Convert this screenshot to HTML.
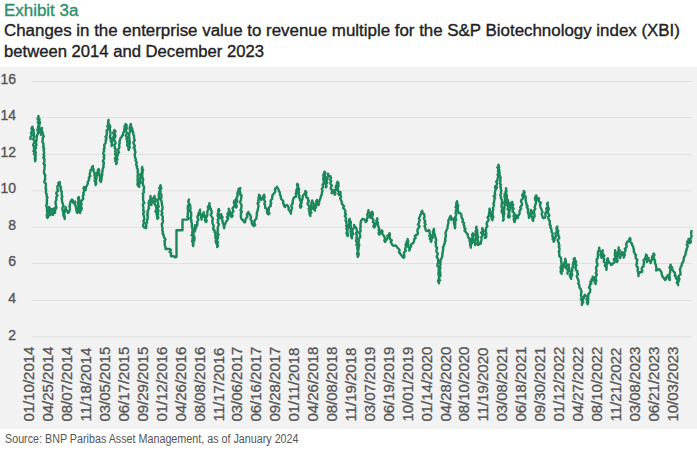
<!DOCTYPE html>
<html><head><meta charset="utf-8"><style>
html,body{margin:0;padding:0;background:#fff;width:697px;height:450px;overflow:hidden}
body{position:relative;font-family:"Liberation Sans",sans-serif}
.t{position:absolute;left:4px;white-space:nowrap;transform-origin:0 0;-webkit-text-stroke:0.35px currentColor}
#ex{top:1px;color:#2f8f6c;font-size:16px;line-height:20px;transform:scaleX(1.058)}
#l1{top:21px;color:#222;font-size:16px;line-height:20px;transform:scaleX(1.056)}
#l2{top:42px;color:#222;font-size:16px;line-height:20px;transform:scaleX(1.040)}
#src{top:431.5px;left:4.5px;color:#555;font-size:12px;line-height:14px;transform:scaleX(0.895);-webkit-text-stroke:0}
svg{position:absolute;left:0;top:0}
</style></head><body>
<svg width="697" height="450" viewBox="0 0 697 450">
<rect x="0" y="66.7" width="697" height="362.5" fill="#f2f2f2"/>
<g stroke="#e0e0e0" stroke-width="1"><line x1="32" y1="81.50" x2="692" y2="81.50"/><line x1="32" y1="117.50" x2="692" y2="117.50"/><line x1="32" y1="154.40" x2="692" y2="154.40"/><line x1="32" y1="190.85" x2="692" y2="190.85"/><line x1="32" y1="227.30" x2="692" y2="227.30"/><line x1="32" y1="263.50" x2="692" y2="263.50"/><line x1="32" y1="300.50" x2="692" y2="300.50"/><line x1="32" y1="336.90" x2="692" y2="336.90"/></g>
<g font-family="Liberation Sans" font-size="14" fill="#555" stroke="#555" stroke-width="0.35" text-anchor="end"><text x="16" y="84.10">16</text><text x="16" y="120.10">14</text><text x="16" y="157.00">12</text><text x="16" y="193.45">10</text><text x="16" y="229.90">8</text><text x="16" y="266.10">6</text><text x="16" y="303.10">4</text><text x="16" y="339.50">2</text></g>
<g font-family="Liberation Sans" font-size="14" fill="#555" stroke="#555" stroke-width="0.3"><text transform="translate(34.30,421.6) rotate(-90) scale(1.072,1)">01/10/2014</text><text transform="translate(53.22,421.6) rotate(-90) scale(1.072,1)">04/25/2014</text><text transform="translate(72.14,421.6) rotate(-90) scale(1.072,1)">08/07/2014</text><text transform="translate(91.06,421.6) rotate(-90) scale(1.072,1)">11/18/2014</text><text transform="translate(109.98,421.6) rotate(-90) scale(1.072,1)">03/05/2015</text><text transform="translate(128.90,421.6) rotate(-90) scale(1.072,1)">06/17/2015</text><text transform="translate(147.82,421.6) rotate(-90) scale(1.072,1)">09/29/2015</text><text transform="translate(166.74,421.6) rotate(-90) scale(1.072,1)">01/12/2016</text><text transform="translate(185.66,421.6) rotate(-90) scale(1.072,1)">04/26/2016</text><text transform="translate(204.58,421.6) rotate(-90) scale(1.072,1)">08/08/2016</text><text transform="translate(223.50,421.6) rotate(-90) scale(1.072,1)">11/17/2016</text><text transform="translate(242.42,421.6) rotate(-90) scale(1.072,1)">03/06/2017</text><text transform="translate(261.34,421.6) rotate(-90) scale(1.072,1)">06/16/2017</text><text transform="translate(280.26,421.6) rotate(-90) scale(1.072,1)">09/28/2017</text><text transform="translate(299.18,421.6) rotate(-90) scale(1.072,1)">01/11/2018</text><text transform="translate(318.10,421.6) rotate(-90) scale(1.072,1)">04/26/2018</text><text transform="translate(337.02,421.6) rotate(-90) scale(1.072,1)">08/08/2018</text><text transform="translate(355.94,421.6) rotate(-90) scale(1.072,1)">11/19/2018</text><text transform="translate(374.86,421.6) rotate(-90) scale(1.072,1)">03/07/2019</text><text transform="translate(393.78,421.6) rotate(-90) scale(1.072,1)">06/19/2019</text><text transform="translate(412.70,421.6) rotate(-90) scale(1.072,1)">10/01/2019</text><text transform="translate(431.62,421.6) rotate(-90) scale(1.072,1)">01/14/2020</text><text transform="translate(450.54,421.6) rotate(-90) scale(1.072,1)">04/28/2020</text><text transform="translate(469.46,421.6) rotate(-90) scale(1.072,1)">08/10/2020</text><text transform="translate(488.38,421.6) rotate(-90) scale(1.072,1)">11/19/2020</text><text transform="translate(507.30,421.6) rotate(-90) scale(1.072,1)">03/08/2021</text><text transform="translate(526.22,421.6) rotate(-90) scale(1.072,1)">06/18/2021</text><text transform="translate(545.14,421.6) rotate(-90) scale(1.072,1)">09/30/2021</text><text transform="translate(564.06,421.6) rotate(-90) scale(1.072,1)">01/12/2022</text><text transform="translate(582.98,421.6) rotate(-90) scale(1.072,1)">04/27/2022</text><text transform="translate(601.90,421.6) rotate(-90) scale(1.072,1)">08/10/2022</text><text transform="translate(620.82,421.6) rotate(-90) scale(1.072,1)">11/21/2022</text><text transform="translate(639.74,421.6) rotate(-90) scale(1.072,1)">03/08/2023</text><text transform="translate(658.66,421.6) rotate(-90) scale(1.072,1)">06/21/2023</text><text transform="translate(677.58,421.6) rotate(-90) scale(1.072,1)">10/03/2023</text></g>
<polyline fill="none" stroke="#1c875a" stroke-width="2.4" stroke-linejoin="round" points="30.6,140.0 30.5,138.6 30.4,137.2 31.5,136.1 31.5,134.7 30.9,133.0 32.0,131.5 31.9,129.9 31.5,128.2 32.5,126.7 32.7,128.3 33.7,129.8 33.2,131.5 34.1,133.0 33.5,134.7 34.3,136.2 33.8,137.7 33.1,139.2 34.4,140.7 34.3,142.2 33.6,143.7 33.1,145.2 34.0,146.7 34.0,148.2 34.4,149.6 33.4,151.1 35.2,152.5 33.9,154.0 35.0,155.4 35.3,156.9 35.5,158.3 35.2,159.8 35.0,161.3 35.7,159.9 34.6,158.3 35.5,156.9 35.7,155.4 35.3,153.9 35.8,152.4 35.0,150.9 35.1,149.4 36.0,148.0 35.6,146.4 36.5,144.9 36.1,143.3 36.0,141.8 36.6,140.3 36.5,138.7 36.8,137.3 36.8,135.9 37.5,134.7 38.1,133.2 38.0,131.6 37.3,130.0 38.0,128.5 38.0,126.9 38.7,125.4 38.5,123.8 37.8,122.2 39.1,120.7 37.6,119.1 38.3,117.6 38.5,116.0 38.2,117.7 39.5,119.1 39.1,120.8 40.1,122.3 39.5,124.0 39.3,125.7 39.3,127.4 39.7,129.0 40.0,130.7 39.7,132.2 41.0,133.3 41.0,134.7 41.5,133.4 41.6,132.0 41.7,130.7 41.7,129.3 42.0,128.0 41.6,129.4 41.6,130.8 42.6,132.0 42.5,133.4 43.0,134.7 43.8,136.2 42.7,137.8 42.9,139.3 42.3,140.9 42.6,142.4 43.6,143.9 43.5,145.5 43.0,147.0 44.2,148.5 43.5,150.1 44.0,151.6 44.2,153.1 43.5,154.7 44.4,156.1 43.2,157.7 44.5,159.1 44.4,160.6 44.3,162.1 43.5,163.6 45.0,165.0 44.5,166.5 44.5,168.0 44.5,169.4 44.0,170.9 44.1,172.3 44.1,173.7 45.3,175.1 45.1,176.6 45.0,178.0 45.3,179.4 44.5,180.9 44.4,182.3 45.9,183.7 45.9,185.1 45.9,186.5 45.5,188.0 46.2,189.5 45.9,191.2 45.9,192.8 46.7,194.3 46.5,196.0 47.5,197.5 46.8,199.2 47.0,200.8 46.8,202.4 47.0,204.0 46.2,205.6 46.8,207.1 47.1,208.7 47.0,210.2 47.0,211.8 48.1,213.3 46.7,214.9 46.9,216.5 47.5,218.0 48.4,216.5 48.5,214.9 48.0,213.3 48.2,211.7 47.9,210.0 49.0,208.6 49.0,207.0 50.1,208.5 50.4,210.1 50.4,211.7 50.8,213.3 50.5,215.0 50.6,213.4 50.5,211.8 50.8,210.3 52.0,209.0 52.9,210.4 53.2,211.9 53.0,213.5 53.0,215.0 52.5,213.4 54.3,212.3 54.1,210.8 53.6,209.3 54.5,208.0 55.1,209.6 55.1,211.3 55.0,213.0 54.9,211.5 54.7,210.0 56.1,208.7 56.5,207.3 55.8,205.8 56.0,204.3 55.4,202.8 55.6,201.4 56.5,200.0 56.3,198.5 56.3,197.0 57.5,195.5 56.4,193.9 56.3,192.4 58.1,191.1 57.4,189.5 57.5,188.0 57.4,186.3 58.6,185.0 58.3,183.2 59.6,182.0 60.0,183.7 59.7,185.6 61.0,187.0 60.5,188.6 60.9,190.2 61.8,191.8 61.7,193.4 61.6,195.0 62.4,196.5 61.5,198.3 62.1,199.8 61.9,201.5 62.6,203.0 63.0,204.4 63.4,205.8 62.5,207.3 62.3,208.8 62.7,210.2 62.9,211.6 63.6,213.0 63.3,214.6 63.7,216.1 64.8,217.4 64.6,219.0 64.8,217.5 64.6,216.0 64.1,214.4 64.3,212.9 64.8,211.5 64.9,210.0 65.8,208.5 65.6,207.0 65.3,208.8 66.6,210.0 67.4,211.5 68.0,213.0 69.2,211.6 69.7,210.0 70.0,208.4 69.4,206.5 70.0,205.0 70.0,203.5 70.5,202.1 71.0,200.8 72.0,199.6 73.0,200.5 72.9,202.0 73.6,203.0 75.1,201.6 74.6,203.3 75.0,204.9 75.9,206.4 76.1,208.0 76.3,209.7 76.6,211.5 77.6,213.0 77.0,211.5 78.1,210.1 78.6,208.7 78.5,207.2 78.5,205.8 78.2,204.3 77.7,202.8 78.9,201.4 78.2,199.9 79.1,198.5 78.7,197.0 78.0,198.5 79.2,199.9 79.3,201.3 78.4,202.9 79.0,204.3 80.1,205.7 80.3,207.1 80.4,208.6 79.2,210.2 79.5,211.6 80.2,213.0 79.8,211.5 81.2,210.2 81.7,208.8 81.4,207.3 81.0,205.7 81.6,204.3 81.1,202.8 81.1,201.3 82.2,200.0 83.3,198.7 82.9,197.2 82.9,195.7 83.9,194.3 83.2,192.8 84.2,191.4 84.3,190.0 83.5,188.4 84.2,187.0 85.3,188.3 85.7,190.0 85.8,188.2 86.3,186.5 87.2,185.0 87.8,183.5 87.8,181.9 88.6,180.5 89.2,179.0 88.8,177.4 90.4,176.1 89.6,174.5 90.0,173.0 90.4,171.5 90.5,170.0 92.0,169.1 92.0,167.3 93.0,166.0 92.5,167.6 93.4,169.0 93.5,170.5 93.8,172.0 94.9,173.4 94.3,175.0 95.0,176.4 94.6,178.0 95.7,179.3 94.5,180.9 95.8,182.1 95.4,183.6 95.6,185.0 96.2,183.5 96.0,182.0 95.8,180.5 96.3,179.0 96.5,177.5 96.6,176.0 97.5,174.7 96.7,173.0 97.9,171.8 97.8,170.3 98.6,169.0 99.3,170.5 98.7,172.3 99.4,173.8 99.6,175.4 100.0,177.0 99.9,178.8 99.9,180.5 101.0,182.0 101.1,180.5 101.6,179.0 101.6,177.5 101.8,176.0 102.3,174.5 102.1,173.0 102.5,171.5 102.6,170.0 102.7,168.6 103.6,167.2 103.3,165.7 103.7,164.3 103.9,162.8 102.8,161.3 103.5,159.9 104.3,158.5 103.6,157.0 104.4,155.6 103.3,153.9 103.4,152.4 104.2,151.0 103.7,149.4 104.6,148.0 104.3,146.3 104.2,144.7 105.5,143.2 105.9,141.7 105.6,140.0 106.6,138.6 105.5,136.9 106.7,135.6 106.6,134.0 107.1,132.5 106.4,130.8 107.9,129.4 108.3,127.9 107.2,126.2 108.7,124.8 108.0,123.1 108.4,121.6 108.6,120.0 108.1,121.8 108.7,123.5 109.6,125.0 110.3,126.5 109.9,128.1 109.8,129.7 110.2,131.3 110.5,132.8 110.4,134.4 110.1,136.0 109.9,137.5 111.4,138.7 110.6,140.3 111.1,141.7 112.0,143.0 111.7,144.5 111.6,146.0 112.0,144.4 112.0,142.8 111.4,141.1 113.3,139.7 112.6,138.0 113.5,136.5 114.2,135.0 113.1,133.0 113.8,131.5 114.6,130.0 115.5,131.5 114.2,133.0 115.1,134.5 115.4,136.0 114.9,137.5 114.1,139.0 114.3,140.5 115.3,142.0 115.6,143.5 114.2,145.0 114.9,146.5 114.7,148.0 115.8,149.5 115.1,151.0 116.0,152.4 115.0,153.9 115.6,155.3 116.3,156.7 114.9,158.3 115.5,159.7 115.3,161.2 116.7,162.5 116.1,164.0 117.0,162.6 115.8,160.9 117.5,159.6 117.0,158.0 117.1,156.5 117.6,155.0 118.0,153.6 119.0,152.4 118.2,150.7 118.2,149.3 119.2,148.0 119.4,146.3 119.1,144.6 119.7,143.0 119.5,141.3 120.1,139.8 120.4,138.2 121.7,137.0 122.0,135.7 123.2,135.0 123.2,133.6 123.5,132.2 124.6,131.0 124.1,129.4 124.8,128.1 124.5,126.6 125.1,125.3 125.7,124.0 126.7,125.4 126.4,127.0 126.9,128.4 125.8,130.0 126.2,131.5 127.0,133.0 126.6,134.5 125.9,136.1 127.5,137.4 126.4,139.0 127.2,140.5 127.2,142.0 127.5,143.6 127.2,145.3 128.3,146.8 128.4,148.4 128.7,150.0 129.2,148.5 129.8,147.0 128.8,145.4 129.8,143.9 129.7,142.4 129.6,140.8 129.4,139.3 129.4,137.7 129.0,136.2 129.2,134.7 129.2,133.1 130.5,131.7 129.8,130.1 129.7,128.5 129.7,127.0 131.2,125.6 130.7,124.0 130.4,125.7 131.2,127.1 132.2,128.4 132.2,130.0 133.0,131.4 133.2,132.9 133.3,134.5 134.1,135.9 134.0,137.5 134.2,139.0 134.7,140.4 133.5,141.9 133.5,143.4 134.3,144.8 134.9,146.3 133.6,147.8 134.9,149.2 134.8,150.6 135.5,152.1 134.9,153.5 134.7,155.0 135.0,156.4 135.1,157.9 135.9,159.2 135.5,160.7 136.7,162.0 136.4,163.5 136.2,165.0 137.1,166.3 136.8,167.8 137.7,169.2 137.9,170.6 137.6,172.1 138.0,173.5 137.7,175.0 137.6,176.6 137.8,178.1 137.5,179.7 137.7,181.3 137.7,182.9 137.4,184.5 138.2,186.0 139.2,187.0 139.2,185.5 139.2,184.0 140.6,182.6 139.2,180.9 140.4,179.5 140.2,178.0 140.7,176.5 140.0,174.7 141.7,173.4 142.0,171.8 141.9,170.2 142.3,168.6 142.2,167.0 141.8,168.5 143.1,169.8 142.5,171.3 142.6,172.8 142.2,174.3 142.3,175.7 142.4,177.2 142.9,178.6 143.2,180.0 142.5,181.5 142.9,183.0 142.9,184.6 143.7,186.1 144.1,187.6 143.9,189.1 143.5,190.7 144.0,192.2 142.7,193.7 143.2,195.2 143.1,196.7 143.1,198.3 143.0,199.8 143.4,201.3 144.3,202.8 142.9,204.4 143.0,205.9 143.4,207.4 143.4,208.9 143.2,210.4 144.3,211.9 143.1,213.5 143.5,215.0 144.0,216.5 144.4,218.0 144.1,219.6 143.3,221.2 144.3,222.7 143.4,224.2 143.1,225.8 144.0,227.3 146.0,228.0 146.2,226.4 146.2,224.8 146.6,223.2 147.1,221.6 147.0,220.0 147.7,218.7 147.6,217.2 147.9,215.8 147.0,214.3 148.0,213.0 147.6,211.4 148.0,209.8 149.1,208.4 148.6,206.8 149.3,205.3 148.5,203.6 148.8,202.1 149.4,200.6 150.4,199.1 150.6,197.6 150.5,196.0 150.4,197.5 151.2,199.0 151.0,200.5 151.2,202.0 151.4,203.5 151.5,205.0 151.2,203.2 152.9,201.8 152.5,200.0 152.7,198.4 154.6,197.7 154.5,196.0 153.9,197.6 155.7,199.0 155.1,200.7 154.6,202.3 154.5,203.9 155.6,205.3 156.1,206.8 156.4,208.4 156.0,210.0 155.5,211.6 157.0,212.9 156.6,214.5 157.6,215.9 157.2,217.5 157.5,219.0 158.4,217.5 157.0,215.9 158.2,214.4 157.7,212.8 158.5,211.2 158.2,209.7 157.4,208.1 158.7,206.6 158.0,205.0 158.2,203.5 157.5,201.9 157.7,200.3 158.8,198.9 158.9,197.4 158.8,195.9 158.7,194.3 159.3,192.8 159.4,191.3 160.5,189.9 159.2,188.2 160.8,186.9 160.5,185.3 160.0,186.9 161.4,188.3 160.0,190.0 160.5,191.5 160.2,193.1 161.4,194.5 161.4,196.1 161.4,197.6 160.4,199.2 161.3,200.7 161.8,202.3 161.8,203.8 162.1,205.3 162.6,206.9 162.6,208.4 162.0,210.0 161.5,211.6 162.5,213.1 161.4,214.7 162.7,216.2 162.8,217.7 162.4,219.3 163.1,220.8 162.8,222.4 161.8,224.0 162.0,225.5 162.2,227.1 162.6,228.6 162.2,230.2 163.0,231.7 162.6,233.5 163.7,234.9 163.7,236.5 164.5,238.0 165.5,239.5 164.4,241.2 165.0,242.7 164.6,244.3 165.0,245.9 165.7,247.4 165.5,249.0 167.0,249.0 168.5,249.0 170.0,249.0 171.0,250.3 169.6,252.0 171.3,253.2 170.8,254.8 171.0,256.2 172.4,256.1 173.8,256.2 175.1,257.2 176.5,257.0 176.5,255.5 176.5,254.0 176.5,252.5 176.5,251.0 176.5,249.6 176.5,248.1 176.5,246.6 176.5,245.1 176.5,243.6 176.5,242.1 176.5,240.6 176.5,239.1 176.5,237.6 176.5,236.2 176.5,234.7 176.5,233.2 176.5,231.7 176.5,230.2 178.0,230.2 179.5,230.2 181.0,230.2 182.5,230.2 182.5,228.7 182.5,227.2 182.5,225.7 182.5,224.1 182.5,222.6 182.5,221.1 182.5,219.6 184.2,219.6 185.8,219.6 187.5,219.6 188.5,218.1 187.3,216.5 188.1,215.0 187.6,213.4 188.2,211.9 188.0,210.3 187.7,208.7 187.8,207.2 188.0,205.6 189.4,204.2 188.8,202.6 188.4,201.0 189.0,199.5 188.4,201.1 188.4,202.6 189.5,204.0 190.2,205.4 190.3,206.9 190.6,208.4 190.0,210.0 190.5,211.4 191.2,212.7 191.1,214.2 191.3,215.6 190.9,217.2 190.6,218.7 191.5,220.0 191.1,221.5 191.8,223.0 191.9,224.5 191.8,226.0 192.2,227.5 192.3,229.0 192.9,230.5 192.2,232.0 192.7,233.5 191.6,235.2 193.2,236.7 192.6,238.3 192.5,239.8 192.1,241.4 193.4,242.9 193.4,244.5 193.1,246.1 192.8,244.6 193.2,243.2 193.4,241.8 194.4,240.4 194.4,238.9 194.5,237.5 194.0,236.0 193.3,234.4 193.4,232.8 194.8,231.4 195.3,229.8 194.7,228.2 195.0,226.7 195.0,225.1 196.4,226.3 196.0,228.0 196.1,226.5 197.3,225.1 197.3,223.6 197.0,222.0 197.9,220.7 198.4,219.4 197.5,217.7 197.5,216.3 198.5,215.0 198.3,213.5 199.3,212.3 200.0,211.0 200.1,209.6 199.5,211.1 200.1,212.5 200.5,213.9 200.5,215.4 201.2,216.7 201.3,218.2 201.6,219.6 201.2,217.9 202.9,216.7 202.3,215.0 203.9,213.8 203.6,212.1 203.6,213.7 204.5,215.2 205.1,216.7 205.2,218.3 205.0,220.0 205.3,221.2 206.1,222.1 206.7,220.6 205.9,219.0 206.0,217.4 207.1,216.1 207.4,214.6 207.3,213.0 207.3,211.4 208.0,210.0 208.5,208.7 207.8,207.0 208.6,205.8 209.2,204.5 209.6,203.1 209.1,204.6 209.9,205.9 209.8,207.4 210.8,208.6 211.0,210.0 211.7,211.4 211.8,212.9 210.7,214.6 211.4,216.0 212.3,217.5 213.0,218.9 212.3,220.5 212.5,222.0 212.5,223.5 213.2,224.8 213.8,226.2 213.3,227.8 213.2,229.3 214.7,230.5 214.5,232.0 215.6,233.4 215.3,235.0 215.5,236.5 215.3,238.1 216.4,239.5 215.6,241.2 216.0,242.6 216.7,244.1 217.5,245.5 217.2,247.1 218.1,245.6 217.0,244.0 218.0,242.5 217.0,240.9 217.1,239.3 218.1,237.8 217.3,236.2 218.6,234.7 217.8,233.1 217.4,231.5 218.0,230.0 217.6,228.5 218.0,227.0 218.4,225.5 219.0,224.1 217.6,222.5 218.1,221.0 217.8,219.5 219.3,218.1 217.8,216.5 217.7,215.0 217.8,213.6 218.4,212.1 219.4,210.6 218.7,209.1 218.2,210.7 218.7,212.1 218.5,213.7 218.8,215.1 220.1,216.5 220.0,218.0 219.9,216.5 221.5,215.6 221.2,214.1 221.0,215.8 222.6,217.1 221.7,218.9 222.5,220.4 222.5,222.0 223.1,223.5 223.6,225.0 224.3,226.5 224.2,228.2 223.8,226.4 224.7,225.0 225.3,223.5 226.0,222.0 227.2,220.1 228.2,218.8 226.9,217.1 228.6,215.9 227.4,214.3 227.9,212.9 228.9,211.5 229.1,210.1 228.7,208.6 229.1,210.2 230.1,211.6 229.7,213.4 230.0,215.0 231.0,215.9 231.7,217.1 232.7,215.8 231.7,214.2 232.2,212.8 233.4,211.5 233.0,210.0 232.5,208.4 233.5,207.1 234.5,205.8 234.7,204.4 233.8,202.7 234.1,201.2 235.2,200.0 236.1,201.4 234.8,203.1 236.1,204.5 235.4,206.1 236.0,207.6 236.9,206.2 236.0,204.5 236.0,203.0 237.4,201.6 236.9,200.0 236.4,198.5 237.0,197.0 237.7,195.6 237.3,193.9 237.6,192.4 238.3,191.0 238.6,189.0 240.3,188.0 239.9,189.5 239.7,191.0 240.3,192.5 239.9,194.0 241.6,195.5 241.3,197.0 241.0,198.5 241.0,200.0 240.2,201.5 240.3,203.0 241.3,204.4 241.6,205.9 241.3,207.3 241.2,208.8 240.5,210.3 241.9,211.7 240.8,213.2 241.0,214.7 240.8,216.2 241.0,217.6 241.5,219.1 243.0,220.0 243.5,221.2 244.3,222.1 245.0,222.4 245.2,220.8 245.7,219.3 246.3,217.9 247.5,216.6 246.8,214.7 247.5,213.3 248.5,212.0 248.5,213.5 249.8,214.5 250.5,215.8 251.0,217.1 250.5,218.7 251.0,220.0 252.0,221.4 251.7,223.4 252.6,224.8 254.0,226.0 255.2,224.9 254.3,223.1 254.4,221.7 254.8,220.3 255.9,219.1 256.6,217.8 256.5,216.3 257.0,215.0 256.7,213.5 257.1,212.1 257.6,210.7 257.9,209.2 258.2,207.8 258.5,206.4 258.3,204.9 257.5,203.3 258.9,202.0 258.1,200.5 258.7,199.1 258.5,197.6 259.3,196.2 259.0,194.7 260.0,195.8 260.4,197.2 260.9,198.5 261.0,200.0 261.2,198.4 263.1,197.7 263.4,196.1 264.0,194.7 264.5,196.1 264.5,197.6 263.5,199.2 264.6,200.6 265.2,202.0 264.3,203.6 265.0,205.0 265.2,206.5 265.2,208.0 267.2,208.8 267.0,210.4 267.0,212.0 267.4,213.4 268.5,214.5 269.5,213.2 268.2,211.5 268.9,210.1 268.8,208.6 269.2,207.2 270.8,205.9 270.4,204.4 271.3,203.0 270.5,201.4 271.0,200.0 272.2,198.8 272.2,197.0 272.5,195.3 273.5,194.0 274.5,192.8 275.3,191.6 275.0,190.0 275.1,188.5 276.5,187.9 277.1,186.7 277.4,188.2 278.5,189.3 278.8,190.8 279.6,192.0 280.0,193.4 280.0,195.0 280.9,196.2 280.8,197.7 281.2,199.1 282.5,200.1 283.3,201.4 283.0,203.0 283.9,204.2 284.0,205.8 285.0,207.0 285.6,205.6 287.0,205.0 288.0,206.3 288.8,207.7 288.5,209.6 289.5,210.8 291.0,211.9 290.9,213.7 290.4,212.1 291.2,210.6 291.7,209.1 292.1,207.6 291.3,206.0 291.7,204.5 292.9,203.1 292.6,201.5 293.0,200.0 293.4,198.5 294.2,197.3 295.9,196.7 296.0,195.0 295.8,193.6 296.5,192.2 296.3,190.8 296.6,189.4 297.5,188.1 297.9,186.7 297.0,185.2 297.4,183.8 298.2,185.2 297.5,186.8 298.6,188.1 299.2,189.5 297.9,191.3 299.0,192.6 298.5,194.2 299.5,195.6 298.8,197.2 299.8,198.5 300.0,200.0 300.7,201.5 301.1,203.0 300.2,204.6 300.1,206.2 300.5,207.7 301.5,206.3 300.4,204.5 301.6,203.1 301.5,201.5 302.0,200.0 302.6,198.5 302.5,196.8 303.3,195.4 304.2,194.0 305.5,192.8 305.3,191.0 306.4,192.3 306.2,194.0 306.1,195.7 306.3,197.2 308.1,198.3 308.0,200.0 308.9,201.3 307.6,203.0 307.8,204.5 308.9,205.8 309.9,207.1 308.6,208.8 309.7,210.1 309.0,211.7 309.7,213.0 309.6,214.5 310.4,215.9 310.0,214.3 311.3,212.9 310.4,211.2 310.9,209.7 311.9,208.3 312.1,206.7 311.1,205.1 311.3,203.5 311.8,202.0 312.2,200.5 312.6,202.0 313.2,203.3 314.1,204.6 314.2,206.1 313.8,207.8 313.9,209.3 315.0,210.6 314.5,208.9 315.7,207.6 316.3,206.1 315.3,204.4 317.0,203.1 316.0,201.4 317.0,200.0 317.3,201.7 317.9,203.4 318.5,205.0 319.1,203.6 319.0,201.9 319.6,200.5 320.1,199.0 320.7,197.6 320.9,196.1 321.7,194.8 321.8,193.2 322.3,191.8 322.3,190.3 321.8,188.8 323.0,187.5 322.9,186.0 322.6,184.5 323.7,183.2 323.9,181.8 323.5,180.2 323.1,178.8 323.8,177.4 323.3,175.9 323.5,174.4 324.2,173.0 324.5,171.6 325.4,173.0 324.9,174.5 324.9,175.9 325.8,177.3 324.9,178.8 326.0,180.2 325.0,181.8 325.0,183.2 325.6,184.6 326.6,186.0 325.9,187.5 326.1,185.9 326.0,184.3 327.3,182.8 326.0,181.1 327.5,179.7 327.0,178.0 328.2,176.8 328.1,175.2 328.0,173.7 328.5,175.5 330.5,176.3 331.0,178.0 330.2,179.6 331.2,181.0 330.4,182.6 330.5,184.1 332.0,185.6 330.9,187.1 330.7,188.7 332.3,190.1 331.9,191.7 331.7,193.2 332.8,192.4 332.7,190.7 334.0,190.0 333.5,191.7 334.8,193.1 334.6,194.7 335.5,193.4 334.6,191.7 335.6,190.4 336.6,189.1 335.7,187.4 336.1,185.9 336.9,184.6 336.9,183.1 337.5,181.7 338.5,183.1 338.4,184.6 338.6,186.1 337.4,187.7 338.0,189.1 337.8,190.6 339.3,192.0 338.3,193.6 339.0,195.0 339.1,193.2 340.5,192.0 340.5,193.6 340.5,195.2 341.1,196.8 340.2,198.4 341.0,200.0 341.4,201.3 341.9,202.6 341.9,204.0 343.0,205.0 344.1,206.1 343.1,207.9 344.2,209.0 345.1,210.2 345.4,211.6 345.0,213.1 346.0,214.5 344.8,216.0 345.7,217.4 346.2,218.8 345.5,220.3 346.1,221.7 346.4,223.1 347.0,224.5 346.1,226.1 347.5,227.4 346.3,229.0 347.4,230.3 346.9,231.8 346.4,233.3 347.3,234.7 347.6,236.1 348.1,234.7 347.6,233.2 347.2,231.7 347.5,230.2 347.8,228.8 348.9,227.5 348.7,226.0 349.0,224.6 349.9,223.2 348.7,221.6 349.0,220.2 349.7,218.8 349.5,220.3 350.8,221.7 350.9,223.1 350.4,224.7 351.0,226.1 350.7,227.6 351.0,229.1 350.5,230.6 350.6,232.1 351.4,233.5 351.0,235.0 351.2,236.7 351.9,238.3 352.1,236.8 351.7,235.2 353.4,234.0 352.4,232.3 352.4,230.8 352.6,229.3 353.8,228.0 354.4,226.6 354.0,225.0 354.3,226.4 355.6,227.0 356.2,228.2 356.7,229.7 357.2,231.2 356.2,232.8 356.4,234.3 356.9,235.8 356.4,237.3 356.9,238.8 356.0,240.4 356.5,241.9 357.4,243.3 356.3,244.9 358.0,246.3 357.2,247.9 357.5,249.4 357.9,250.9 358.3,252.4 357.0,254.0 358.5,255.4 357.7,257.0 357.9,255.5 358.8,254.1 357.5,252.4 357.7,250.9 358.6,249.5 358.5,247.9 358.9,246.5 359.3,245.0 358.3,243.4 358.7,241.9 358.8,240.4 358.5,238.8 360.1,237.4 360.1,235.9 360.1,234.4 358.9,232.8 360.6,231.4 360.5,229.9 360.1,228.3 360.8,226.9 360.4,225.3 360.6,223.8 360.7,222.4 361.0,221.0 361.7,219.9 362.7,218.8 364.4,219.3 365.1,220.7 366.0,222.0 366.8,220.6 367.0,219.1 367.5,217.7 367.6,216.1 367.2,214.5 368.0,213.1 368.1,211.6 368.5,210.1 368.4,211.6 369.3,212.7 370.2,213.9 369.9,215.4 369.8,216.9 371.0,218.0 370.8,216.3 372.2,214.9 371.0,213.1 372.1,211.6 372.7,213.0 373.0,214.4 372.3,216.0 372.1,217.5 372.7,218.9 373.6,220.2 372.8,221.8 374.0,223.1 374.4,224.5 373.4,226.2 374.3,227.5 374.9,226.2 375.5,224.9 375.8,223.6 376.8,222.4 376.3,220.8 377.4,219.6 377.2,218.1 377.0,219.7 377.0,221.2 377.9,222.6 377.6,224.2 378.1,225.7 378.7,227.1 379.1,228.6 378.6,230.2 379.8,231.6 378.5,233.3 379.4,234.7 379.5,233.0 380.0,231.4 381.5,230.3 382.6,231.5 381.7,233.4 383.1,234.6 383.9,235.9 384.6,237.3 385.0,238.8 384.3,240.6 385.1,241.9 386.0,240.6 386.9,239.2 387.7,237.7 387.3,235.7 388.9,234.7 389.5,233.2 390.0,234.6 389.5,236.2 389.8,237.7 390.0,239.2 391.8,240.3 390.7,242.1 391.6,243.4 392.3,244.9 393.4,245.8 395.5,245.4 396.6,246.4 397.4,247.7 398.7,248.8 399.6,250.2 399.0,252.3 400.3,253.5 400.8,254.9 401.9,255.8 402.6,257.1 403.9,257.8 404.4,256.4 404.1,254.8 404.0,253.3 404.3,251.9 405.8,250.7 405.1,249.0 405.6,247.6 406.0,246.2 405.6,244.6 406.3,243.3 406.6,241.8 407.7,240.5 407.6,239.0 408.0,240.4 408.3,241.9 407.4,243.5 408.4,244.8 408.0,246.3 408.7,247.7 409.9,249.0 409.3,250.6 409.6,249.2 410.0,247.8 411.0,246.5 411.0,245.0 411.7,243.8 413.1,243.2 413.7,241.9 414.2,240.5 414.1,239.0 415.7,238.0 414.8,236.1 416.0,235.0 417.4,234.5 418.0,233.2 417.5,231.7 417.4,230.2 417.9,228.8 419.0,227.5 419.5,226.1 417.9,224.4 418.9,223.1 419.1,221.6 419.8,220.2 418.8,218.7 419.5,217.3 420.1,216.0 420.4,214.6 421.7,213.6 421.3,211.9 422.3,210.8 422.3,212.6 423.8,213.7 424.3,215.2 424.6,216.7 423.9,218.3 424.4,219.8 425.3,221.3 424.5,222.9 425.6,224.4 424.5,226.0 425.2,227.5 425.4,228.8 425.7,230.1 426.7,231.1 427.9,230.8 429.0,230.0 429.5,231.4 429.7,232.9 429.9,234.4 429.3,236.1 431.0,237.3 429.8,239.0 431.6,240.3 431.0,241.9 430.8,240.3 431.2,238.9 432.7,237.7 432.3,236.1 432.4,234.6 433.6,233.4 432.8,231.7 433.5,230.3 433.9,228.9 434.1,230.4 434.0,232.0 434.3,233.6 435.0,235.0 434.9,236.4 435.6,237.8 435.9,239.2 436.3,240.5 435.3,242.1 436.1,243.4 435.9,244.9 435.9,246.4 437.1,247.7 436.8,249.2 436.3,250.7 436.8,252.2 437.8,253.6 437.3,255.1 436.7,256.6 437.5,258.0 438.1,259.5 438.2,261.1 438.1,262.6 437.5,264.2 437.3,265.8 438.7,267.2 438.8,268.8 438.7,270.3 438.6,271.9 438.4,273.5 438.5,275.0 439.2,276.4 439.0,277.8 439.3,279.2 438.0,280.7 438.5,282.0 439.0,283.4 438.4,281.8 440.1,280.4 438.7,278.7 439.3,277.2 440.5,275.8 440.3,274.2 440.3,272.7 439.9,271.1 439.6,269.6 440.5,268.1 439.7,266.5 440.5,265.0 440.2,263.5 440.7,262.2 440.3,260.7 441.1,259.4 441.5,258.0 442.3,256.5 442.4,254.9 442.4,253.2 442.9,251.6 443.0,250.0 443.2,248.6 442.9,247.2 444.0,246.0 444.0,244.6 444.8,243.3 444.7,241.9 445.6,240.5 445.0,238.8 445.5,237.3 446.0,235.8 445.6,234.2 445.5,232.6 446.2,231.1 446.9,229.6 447.5,228.1 447.6,226.5 447.8,224.9 448.4,223.4 448.4,221.8 448.4,220.2 449.3,218.9 449.7,217.3 450.5,215.9 451.2,217.2 450.9,218.7 451.5,220.0 452.5,218.7 454.1,218.8 454.4,220.4 453.9,222.0 454.1,223.5 454.4,225.1 455.2,226.6 454.9,228.2 454.9,226.7 455.0,225.2 455.4,223.7 455.1,222.1 455.7,220.6 456.2,219.1 455.0,217.5 455.9,216.1 456.2,214.6 455.6,213.0 455.9,211.5 456.0,210.0 457.0,208.6 455.5,207.0 456.6,205.7 456.1,204.1 457.3,202.8 457.0,201.3 456.4,202.9 457.3,204.2 458.3,205.6 457.6,207.2 457.9,208.6 457.7,210.1 458.3,211.5 458.5,213.0 460.0,213.0 461.4,214.5 461.5,216.0 461.5,217.5 462.4,218.8 463.0,220.2 462.4,221.9 464.1,223.0 463.6,224.7 464.5,226.0 464.2,227.6 465.6,228.8 464.5,230.6 465.7,231.8 466.6,233.1 467.7,234.4 467.9,236.0 468.3,237.5 469.6,238.7 469.5,240.4 470.0,241.9 470.3,243.3 470.0,244.8 470.9,246.2 470.8,247.7 470.6,246.2 470.7,244.7 471.9,243.4 472.4,242.0 471.9,240.5 471.6,238.9 472.8,237.6 472.3,236.1 472.2,234.6 472.9,233.2 473.8,234.6 472.9,236.2 473.1,237.7 473.7,239.1 474.3,240.6 474.4,242.1 475.2,243.4 475.0,245.0 476.0,243.5 475.0,241.9 475.6,240.4 476.1,238.9 476.2,237.4 475.7,235.8 475.5,234.3 476.1,232.8 475.5,231.2 476.8,229.8 476.1,228.2 476.5,226.7 476.0,228.3 477.2,229.7 477.1,231.3 477.4,232.8 477.3,234.3 477.8,235.8 478.3,237.3 477.1,238.9 478.0,240.4 478.2,241.9 478.2,243.4 478.0,245.0 479.4,244.2 480.9,243.4 480.9,241.9 481.4,240.4 481.6,238.9 481.2,237.3 482.4,235.9 482.4,234.3 481.1,232.7 482.6,231.3 482.9,229.8 482.3,228.2 482.2,229.7 483.7,230.8 482.9,232.6 483.6,233.9 485.1,235.0 485.5,236.4 485.0,238.0 486.3,236.8 486.0,235.0 486.4,233.6 485.9,232.0 485.8,230.5 486.0,229.0 486.3,227.6 487.4,226.2 486.8,224.6 486.6,223.1 487.4,221.7 488.4,220.4 488.4,218.9 487.5,217.3 489.0,216.0 488.8,214.5 489.3,213.1 489.3,211.6 490.0,210.3 489.5,208.7 489.4,210.3 489.7,211.8 491.2,212.9 491.0,214.5 491.0,216.0 491.6,217.4 491.6,218.9 492.4,220.2 492.4,218.7 493.4,217.2 492.9,215.6 492.6,214.1 492.7,212.6 492.7,211.0 493.4,209.6 492.8,208.0 493.7,206.5 493.9,205.0 493.4,203.5 494.1,202.1 494.2,200.6 494.4,199.2 495.1,197.8 493.7,196.2 495.3,194.9 494.7,193.4 495.0,191.9 495.3,190.5 495.7,189.1 495.0,187.5 495.3,186.1 495.8,187.5 496.0,189.0 497.0,187.7 495.7,186.0 496.9,184.7 497.1,183.3 496.2,181.7 497.5,180.4 497.5,178.9 497.9,177.5 498.5,176.1 497.5,174.6 498.7,173.2 498.0,171.8 498.0,170.3 498.8,168.9 497.4,167.4 498.7,166.1 498.4,164.6 498.4,166.1 499.1,167.4 498.4,169.0 499.4,170.3 499.4,171.7 499.6,173.2 499.3,174.6 500.0,176.0 500.6,177.4 500.3,178.9 500.4,180.3 500.3,181.8 499.9,183.3 500.9,184.7 500.1,186.2 500.9,187.6 500.8,189.1 501.3,190.5 501.0,192.0 501.1,193.4 500.3,195.0 501.0,196.5 500.9,198.0 501.8,199.4 501.9,201.0 502.1,202.5 501.6,204.0 501.7,205.5 501.5,207.1 502.9,208.5 501.8,210.1 501.6,211.6 502.3,213.1 503.3,214.6 503.0,216.1 503.6,217.6 503.4,219.1 502.9,220.7 503.8,219.3 503.4,217.8 503.6,216.3 504.0,214.8 504.3,213.4 503.9,211.9 504.1,210.4 504.3,208.9 504.5,207.4 504.5,205.9 504.8,204.5 504.1,202.9 505.0,201.5 504.8,200.0 505.5,198.6 504.4,197.0 504.7,195.5 504.6,194.0 506.1,192.7 506.5,191.2 506.1,189.7 506.0,188.2 506.3,189.7 505.6,191.3 505.8,192.8 506.3,194.3 506.9,195.8 506.9,197.3 506.8,198.9 507.1,200.4 506.9,201.9 506.7,203.5 507.0,205.0 508.1,203.5 506.9,201.5 508.0,200.0 507.9,201.5 508.9,202.9 508.9,204.4 507.7,206.0 508.2,207.4 507.6,208.9 508.5,210.4 509.3,211.8 508.7,213.3 508.4,214.8 507.9,216.3 508.7,217.8 509.8,216.4 509.2,214.7 509.3,213.1 509.0,211.4 510.0,210.0 510.6,208.7 510.3,207.2 510.5,205.8 510.7,204.4 511.1,203.0 512.3,201.9 512.1,203.5 513.3,205.1 511.9,206.8 513.6,208.3 513.0,210.0 512.5,211.6 514.0,212.9 514.4,214.4 513.4,216.1 514.4,217.5 513.7,219.1 514.9,220.5 514.5,222.1 514.0,220.5 515.6,219.4 515.8,217.9 516.3,216.6 516.0,215.0 516.7,216.7 518.0,218.0 517.7,216.2 519.0,214.9 519.6,213.3 519.5,211.6 520.0,210.0 521.1,208.9 520.2,207.4 521.0,206.2 522.1,204.8 521.9,203.2 521.0,201.5 521.3,200.0 522.7,198.6 523.2,197.2 522.2,195.4 522.9,194.0 523.9,192.6 523.8,191.0 524.7,192.4 523.8,194.2 524.8,195.7 525.8,197.1 525.6,198.7 525.6,200.4 526.0,201.9 526.4,203.2 526.4,204.7 527.6,205.8 526.8,207.4 527.9,208.6 528.0,210.0 527.9,211.6 528.1,213.1 528.7,214.7 528.9,216.2 528.9,217.8 529.8,216.4 530.5,214.9 530.7,213.3 530.7,211.6 531.0,210.0 531.7,211.5 532.4,213.1 531.1,215.0 531.8,216.5 532.5,218.0 532.3,219.5 533.2,220.7 533.1,219.2 533.7,217.7 534.6,216.3 534.5,214.8 534.2,213.3 533.9,211.7 534.3,210.3 535.3,208.9 534.5,207.3 535.2,205.9 535.3,204.4 536.0,202.9 536.0,201.4 535.2,199.8 534.9,198.3 535.5,196.8 536.1,195.4 536.9,196.9 537.2,198.5 538.0,200.0 539.0,198.3 538.8,200.0 539.0,201.5 540.9,202.7 539.9,204.6 540.3,206.1 540.5,207.7 541.4,209.1 541.9,210.6 542.5,212.0 541.7,213.7 542.0,215.1 542.5,216.6 543.0,218.0 544.7,217.8 545.5,216.4 545.5,214.8 545.3,213.2 546.3,211.8 547.0,210.4 546.2,208.6 547.4,207.3 548.0,205.8 547.0,204.1 547.7,202.6 547.6,204.1 547.6,205.5 548.1,206.9 548.7,208.4 548.7,209.8 547.9,211.3 547.9,212.8 548.6,214.2 549.4,215.6 548.2,217.1 548.4,218.6 549.0,220.0 549.9,221.3 549.8,223.0 549.7,224.6 550.8,225.9 550.3,227.4 551.2,228.8 551.5,230.2 551.5,231.7 552.4,233.0 552.6,234.5 552.3,236.0 553.2,237.3 552.6,239.0 553.6,240.3 553.7,241.8 554.4,240.4 554.6,238.8 555.4,237.5 555.9,236.0 555.5,234.3 555.6,232.7 557.5,231.4 556.6,229.7 556.4,228.1 557.3,226.6 557.2,228.1 557.1,229.6 558.3,230.9 557.7,232.5 558.3,233.9 558.1,235.4 559.1,236.8 559.2,238.2 557.7,239.8 558.0,241.3 558.8,242.7 558.8,244.2 559.5,245.6 558.7,247.1 559.5,248.5 559.5,250.0 558.8,251.6 559.3,253.0 559.3,254.5 559.2,256.0 560.6,257.4 561.2,258.8 561.0,260.4 561.2,261.8 561.5,263.3 561.7,264.8 560.9,266.4 560.5,267.9 561.4,269.3 560.6,270.9 560.8,272.4 561.7,273.8 561.3,272.1 562.6,270.8 562.6,269.2 562.5,267.6 564.3,266.4 563.4,264.6 564.3,263.3 564.8,261.8 565.7,260.4 565.3,258.7 565.2,260.3 565.9,261.7 566.1,263.2 566.8,264.7 565.6,266.4 565.7,267.9 567.3,269.2 567.9,270.7 567.7,272.2 567.5,273.8 567.5,272.2 568.7,270.8 568.9,269.3 569.0,267.7 567.9,265.9 568.9,264.5 568.6,266.0 569.0,267.4 569.3,268.9 568.9,270.4 570.8,271.6 570.9,273.0 570.0,274.6 569.9,276.1 570.6,277.5 571.1,278.9 571.0,277.3 571.8,275.9 572.3,274.5 571.4,272.8 572.1,271.4 572.2,269.9 572.2,268.3 573.1,267.0 572.8,265.4 573.2,263.9 573.3,262.4 574.5,261.0 573.6,259.3 574.7,258.0 574.6,259.5 575.7,260.9 576.2,262.3 574.9,264.1 576.4,265.3 575.4,267.0 575.7,268.5 575.9,270.0 577.5,271.2 577.2,272.8 578.0,274.2 576.8,275.9 577.2,277.4 577.8,278.8 578.4,280.2 578.8,281.7 578.2,283.3 579.0,284.7 579.4,286.1 579.5,287.7 580.7,288.9 581.0,290.4 581.6,291.8 581.2,293.4 580.9,294.9 581.3,296.3 582.1,297.7 580.9,299.2 582.1,300.6 581.9,302.0 582.4,303.4 581.9,304.9 581.9,303.3 583.3,302.2 582.9,300.5 583.0,299.0 584.0,297.7 584.1,296.2 584.8,294.8 585.6,296.0 587.0,296.0 587.8,297.6 586.4,299.4 588.2,300.9 586.9,302.6 587.7,304.2 588.2,302.7 587.6,301.1 588.2,299.7 588.1,298.1 588.2,296.6 588.3,295.1 588.7,293.6 590.0,292.2 590.2,290.7 590.3,289.2 589.0,287.5 589.9,286.1 589.9,284.6 591.4,283.6 590.3,281.8 591.9,280.8 591.5,279.3 593.1,278.3 592.7,276.7 594.1,277.8 593.3,279.8 594.7,281.0 595.6,282.3 595.6,284.0 594.8,282.4 596.4,280.9 595.9,279.3 595.4,277.7 596.0,276.2 596.9,274.7 595.8,273.1 596.5,271.6 596.5,270.0 596.0,268.4 596.2,266.9 597.4,265.4 597.5,263.9 596.7,262.3 596.6,260.7 596.8,259.2 597.9,257.8 597.8,256.2 598.0,254.8 597.9,253.3 598.0,251.8 598.9,250.5 599.3,249.1 599.2,247.6 599.0,249.2 599.7,250.5 600.7,251.8 601.2,253.2 600.4,254.9 601.2,256.2 601.4,257.7 602.1,256.3 601.2,254.6 602.8,253.4 602.2,251.7 602.8,250.3 602.4,251.8 602.5,253.2 603.3,254.5 604.4,255.7 602.9,257.3 603.9,258.6 604.0,260.0 603.7,261.6 605.1,262.7 605.6,264.1 604.8,265.8 605.9,267.0 606.6,268.3 606.4,269.9 606.3,268.4 606.9,267.0 606.0,265.4 607.1,264.1 607.2,262.6 607.5,261.2 606.9,259.7 607.8,258.3 608.1,259.8 608.6,261.2 609.1,262.6 610.7,263.5 611.0,265.0 612.3,264.5 613.1,263.2 614.3,262.6 614.9,261.1 613.7,259.5 615.3,258.0 615.5,256.5 614.8,254.9 614.9,253.4 615.1,251.8 615.1,250.3 615.3,251.8 616.4,253.1 615.0,254.8 616.5,256.1 616.9,257.5 617.2,259.0 617.2,260.5 617.0,262.0 617.7,260.6 616.5,259.0 616.8,257.6 618.0,256.2 617.3,254.7 617.2,253.2 618.4,251.9 618.5,250.4 618.6,249.0 618.7,247.5 618.5,249.0 619.8,250.4 618.6,252.1 619.1,253.5 620.4,254.9 620.5,256.4 620.0,258.0 620.5,256.5 621.0,255.0 621.1,253.4 622.0,252.0 623.1,253.2 623.0,254.8 623.9,256.0 623.7,257.6 624.2,256.2 624.9,254.8 623.9,253.1 625.0,251.8 625.6,250.4 624.8,248.8 626.3,247.6 626.8,246.2 626.1,244.5 626.6,243.1 627.3,241.8 628.8,240.9 629.2,239.4 630.0,238.1 630.6,239.4 630.0,241.1 630.7,242.4 631.9,243.5 632.0,245.0 632.9,246.1 633.3,247.4 633.6,248.7 634.0,250.0 633.7,251.6 634.5,252.7 634.8,254.0 636.0,255.0 635.6,256.7 635.8,258.3 637.4,259.7 636.8,261.4 637.0,263.0 636.3,264.6 636.6,266.1 637.9,267.5 637.8,269.1 637.6,270.6 638.0,272.1 638.4,273.4 638.3,274.8 638.5,276.1 638.3,274.5 639.4,273.3 640.0,272.0 642.1,272.1 642.3,270.6 641.6,269.0 642.0,267.5 643.7,266.2 643.5,264.6 644.0,263.1 643.7,261.5 643.6,260.0 644.7,258.8 645.4,257.5 646.0,256.2 646.0,254.5 647.0,255.9 646.1,257.5 647.0,258.9 646.5,260.5 647.0,262.0 647.2,260.5 648.1,259.4 648.6,258.0 648.4,259.6 649.4,260.6 650.5,261.7 650.6,263.1 651.1,261.7 651.3,260.3 652.7,259.2 651.9,257.5 652.4,256.1 653.4,255.0 653.6,253.5 654.5,254.8 653.8,256.4 653.4,257.9 654.4,259.2 655.1,260.6 654.9,262.0 655.0,263.5 655.9,264.8 656.1,266.2 656.3,267.7 656.3,269.1 656.1,270.6 657.5,269.7 659.1,269.1 660.1,270.2 660.8,271.4 661.6,272.5 661.6,274.1 662.2,275.3 662.5,276.8 663.6,277.8 664.4,279.0 665.2,280.1 666.1,279.0 666.0,277.4 667.4,276.5 667.7,275.1 668.3,276.3 668.6,277.6 669.0,278.9 669.7,280.1 669.7,278.5 669.6,277.0 669.5,275.4 669.6,273.9 670.2,272.4 670.1,270.8 670.6,269.3 669.6,267.6 670.3,266.1 670.7,264.6 670.6,266.2 672.1,267.2 672.1,268.8 672.7,270.1 673.5,271.4 674.7,272.6 675.2,274.1 674.7,275.7 676.3,276.8 675.9,278.4 677.3,279.5 677.8,280.8 676.8,282.6 677.9,283.8 678.2,285.2 677.6,283.5 678.4,282.0 678.8,280.5 679.5,279.0 678.6,277.3 679.0,275.7 680.6,274.3 680.4,272.7 680.2,271.1 679.9,269.6 680.5,268.2 680.8,266.8 681.7,265.6 681.7,264.1 682.4,262.7 683.3,261.5 683.7,260.0 683.7,258.4 684.2,257.0 685.0,255.8 685.4,254.5 685.8,253.1 685.7,251.7 686.6,250.5 686.5,249.0 687.2,247.6 687.8,246.3 686.7,244.6 688.3,243.4 687.1,241.7 688.7,240.5 688.5,239.0 688.9,240.4 689.5,241.7 690.0,243.0 691.0,241.7 690.5,240.1 690.4,238.6 691.3,237.3 691.6,235.9 691.3,234.4 691.1,232.9 691.4,231.4 691.7,230.0"/>
</svg>
<div class="t" id="ex">Exhibit 3a</div>
<div class="t" id="l1">Changes in the enterprise value to revenue multiple for the S&amp;P Biotechnology index (XBI)</div>
<div class="t" id="l2">between 2014 and December 2023</div>
<div class="t" id="src">Source: BNP Paribas Asset Management, as of January 2024</div>
</body></html>
